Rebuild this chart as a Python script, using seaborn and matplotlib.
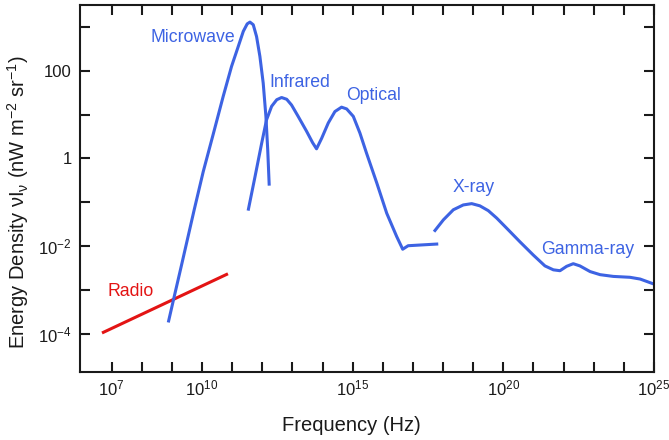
import numpy as np
import pandas as pd
import matplotlib
matplotlib.use("Agg")
import matplotlib.pyplot as plt
from matplotlib.ticker import FixedLocator, FixedFormatter, NullLocator
import seaborn as sns

# ---- data (log10 of frequency [Hz] and log10 of energy density) ----
radio_logx = [6.68, 10.86]
radio_logy = [-3.98, -2.63]

microwave_logx = [8.88, 9.04, 9.32, 9.74, 10.04, 10.37, 10.70, 10.98, 11.20, 11.37,
                  11.50, 11.59, 11.70, 11.81, 11.92, 12.03, 12.12, 12.18, 12.23]
microwave_logy = [-3.74, -3.26, -2.43, -1.17, -0.30, 0.55, 1.41, 2.10, 2.55, 2.90,
                  3.07, 3.11, 3.05, 2.78, 2.33, 1.72, 0.96, 0.20, -0.62]

irop_logx = [11.53, 11.76, 11.98, 12.14, 12.31, 12.48, 12.64, 12.81, 12.97, 13.19,
             13.47, 13.67, 13.80, 13.97, 14.19, 14.41, 14.63, 14.80, 15.02, 15.24,
             15.46, 15.80, 16.13, 16.46, 16.66, 16.84, 17.84]
irop_logy = [-1.19, -0.41, 0.35, 0.88, 1.19, 1.34, 1.39, 1.35, 1.22, 0.96,
             0.62, 0.36, 0.22, 0.46, 0.81, 1.07, 1.17, 1.13, 0.96, 0.58,
             0.12, -0.56, -1.25, -1.78, -2.07, -1.99, -1.95]

xg_logx = [17.70, 18.01, 18.34, 18.67, 18.95, 19.22, 19.50, 19.78, 20.11, 20.55,
           20.99, 21.38, 21.66, 21.88, 22.10, 22.32, 22.54, 22.88, 23.21, 23.65,
           24.20, 24.54, 24.98]
xg_logy = [-1.67, -1.40, -1.17, -1.06, -1.03, -1.08, -1.19, -1.36, -1.59, -1.90,
           -2.20, -2.45, -2.54, -2.56, -2.46, -2.40, -2.45, -2.58, -2.65, -2.69,
           -2.71, -2.75, -2.86]

band_names = ["Microwave", "Infrared", "Optical", "X-ray", "Gamma-ray", "Radio"]
band_logx = [9.70, 13.25, 15.68, 19.01, 22.79, 7.62]
band_logy = [2.76, 1.74, 1.43, -0.66, -2.08, -3.03]

xtick_exp = list(range(7, 26))
xtick_labels_at = {7: r"$\mathregular{10^{7}}$", 10: r"$\mathregular{10^{10}}$",
                   15: r"$\mathregular{10^{15}}$", 20: r"$\mathregular{10^{20}}$",
                   25: r"$\mathregular{10^{25}}$"}
ytick_exp = list(range(-4, 4))
ytick_labels_at = {-4: r"$\mathregular{10^{-4}}$", -2: r"$\mathregular{10^{-2}}$",
                   0: "1", 2: "100"}

# ---- style ----
sns.set_style("ticks")
plt.rcParams["font.family"] = ["Liberation Sans", "DejaVu Sans"]
plt.rcParams["mathtext.fontset"] = "custom"
plt.rcParams["mathtext.rm"] = "Liberation Sans"
plt.rcParams["mathtext.it"] = "Liberation Sans"

BLUE = "#3d63e3"
RED = "#e31414"
INK = "#1a1a1a"

fig = plt.figure(figsize=(6.69, 4.40), dpi=100)
ax = fig.add_axes([80 / 669, 1 - 372 / 440, (654 - 80) / 669, (372 - 5) / 440])
ax.set_xscale("log")
ax.set_yscale("log")


def seg(lx, ly, color):
    df = pd.DataFrame({"x": 10.0 ** np.asarray(lx, float), "y": 10.0 ** np.asarray(ly, float)})
    sns.lineplot(data=df, x="x", y="y", ax=ax, color=color, lw=2.2,
                 estimator=None, sort=False, solid_capstyle="butt",
                 solid_joinstyle="round")


seg(radio_logx, radio_logy, RED)
seg(microwave_logx, microwave_logy, BLUE)
seg(irop_logx, irop_logy, BLUE)
seg(xg_logx, xg_logy, BLUE)

for name, lx, ly in zip(band_names, band_logx, band_logy):
    ax.text(10.0 ** lx, 10.0 ** ly, name, color=RED if name == "Radio" else BLUE,
            fontsize=12.7, ha="center", va="center")

ax.set_xlim(10.0 ** 5.95, 10.0 ** 25)
ax.set_ylim(10.0 ** -4.87, 10.0 ** 3.5)

ax.xaxis.set_major_locator(FixedLocator([10.0 ** e for e in xtick_exp]))
ax.xaxis.set_major_formatter(FixedFormatter([xtick_labels_at.get(e, "") for e in xtick_exp]))
ax.yaxis.set_major_locator(FixedLocator([10.0 ** e for e in ytick_exp]))
ax.yaxis.set_major_formatter(FixedFormatter([ytick_labels_at.get(e, "") for e in ytick_exp]))
ax.xaxis.set_minor_locator(NullLocator())
ax.yaxis.set_minor_locator(NullLocator())

ax.tick_params(axis="both", which="major", direction="in", length=7, width=1.5,
               top=True, right=True, labelsize=12, color=INK, labelcolor=INK)
ax.tick_params(axis="x", pad=5)
ax.tick_params(axis="y", pad=6)
for sp in ax.spines.values():
    sp.set_visible(True)
    sp.set_linewidth(1.5)
    sp.set_color(INK)

ax.set_xlabel("Frequency (Hz)", fontsize=14.5, color=INK)
ax.xaxis.set_label_coords(0.473, -0.12)
ax.set_ylabel(r"Energy Density $\mathregular{\nu I_{\nu}}$ (nW m$\mathregular{^{-2}}$ sr$\mathregular{^{-1}}$)",
              fontsize=14.5, color=INK)
ax.yaxis.set_label_coords(-0.085, 0.463)

fig.savefig("out.png", dpi=100)
